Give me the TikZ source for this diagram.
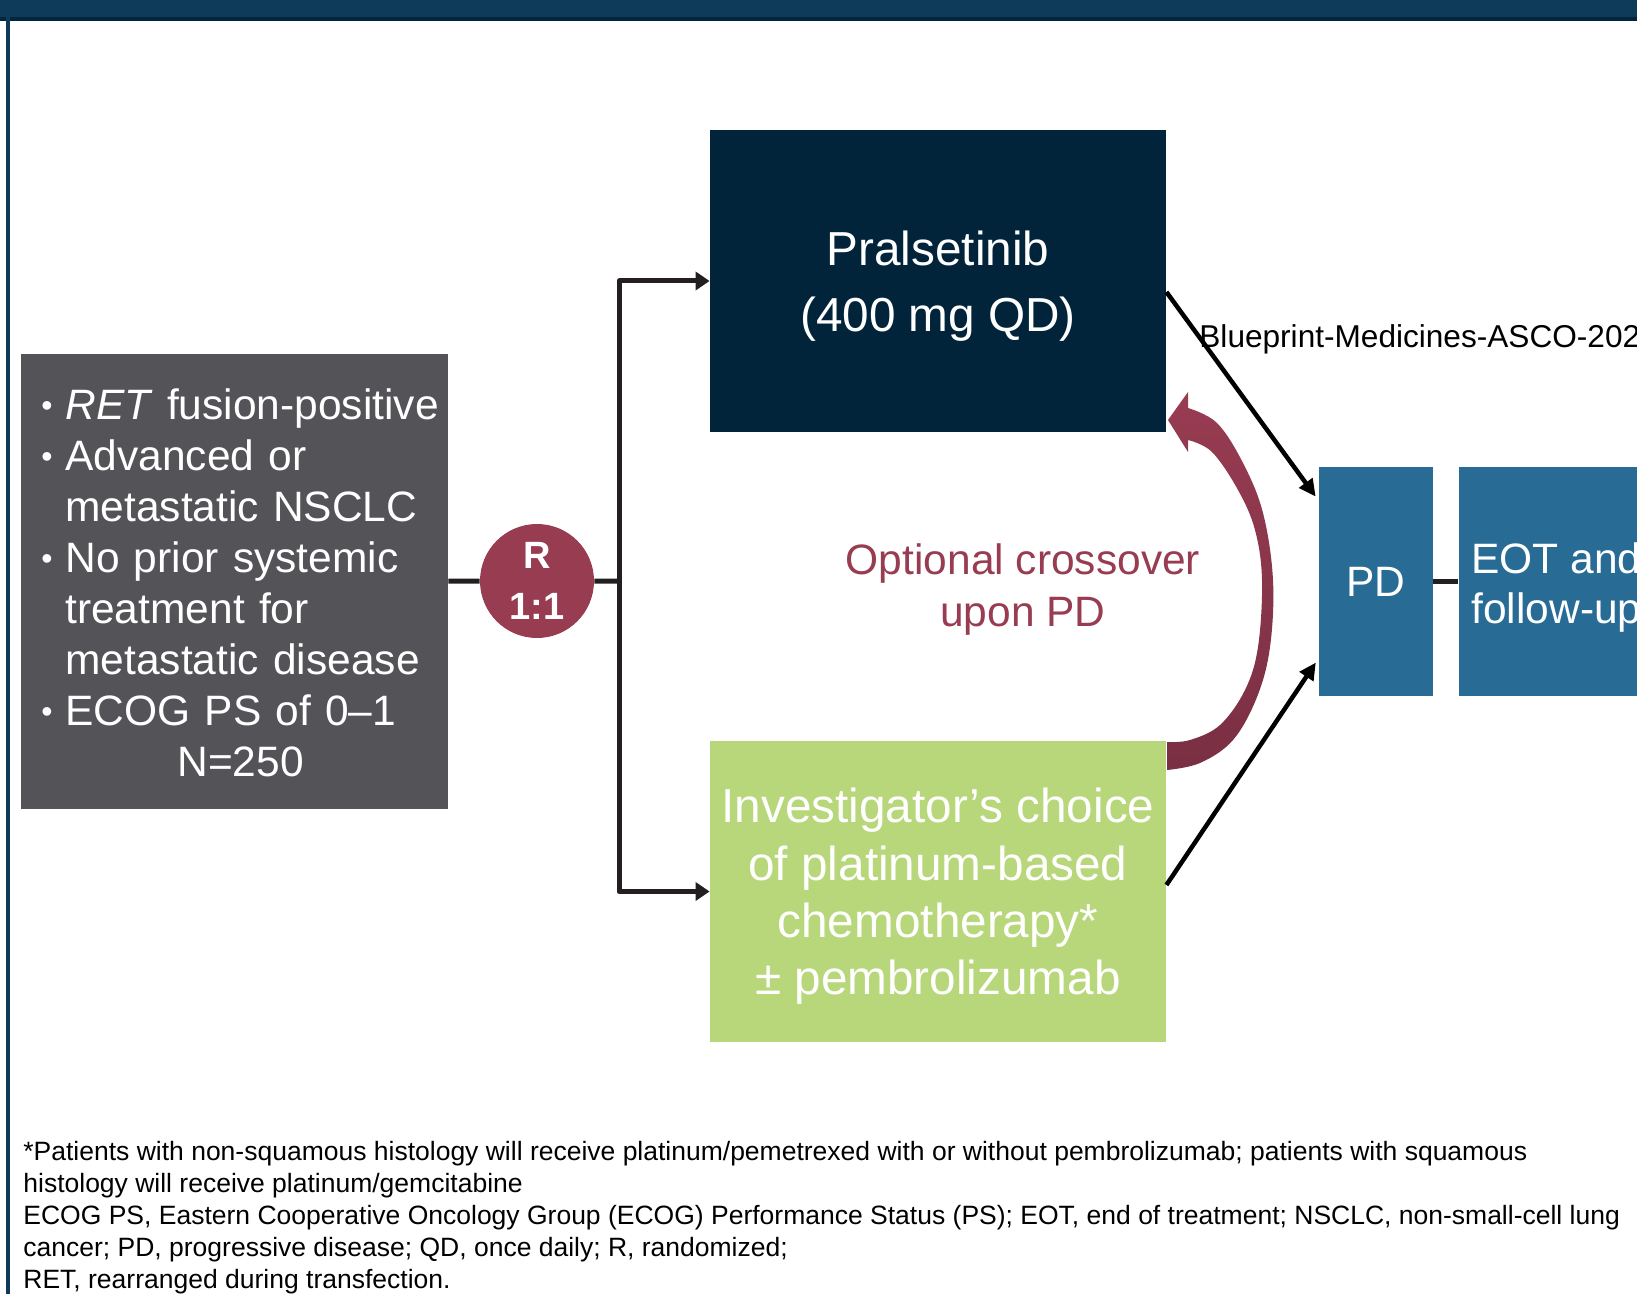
\documentclass[tikz,border=0pt]{standalone}
\usepackage{fontspec}
\setmainfont{Liberation Sans}
\usetikzlibrary{arrows.meta,positioning,calc}
\definecolor{barblue}{HTML}{0F3B5A}
\definecolor{bardark}{HTML}{03253E}
\definecolor{navy}{HTML}{01243B}
\definecolor{slate}{HTML}{545458}
\definecolor{maroon}{HTML}{983C52}
\definecolor{maroondark}{HTML}{7A2F43}
\definecolor{lime}{HTML}{B7D77A}
\definecolor{steel}{HTML}{286C96}
\definecolor{ink}{HTML}{231F20}
\tikzset{
  box/.style={inner sep=0pt, align=center, text=white},
  link/.style={ink, line width=2.5pt},
  branch/.style={link, -{Triangle[length=7pt,width=9pt]}},
  topd/.style={black, line width=2.25pt, -{Triangle[length=8.5pt,width=8pt]}, shorten >=2.5pt},
}
\newcommand{\bul}{\makebox[9pt][l]{\hspace*{-3pt}\raisebox{1.5pt}{\fontsize{16}{16}\selectfont\textbullet}}}
\begin{document}
\begin{tikzpicture}[x=0.5pt, y=-0.5pt, line join=round]
\useasboundingbox (0,0) rectangle (1637,1294);
\clip (0,0) rectangle (1637,1294);
% frame
\fill[barblue] (0,0) rectangle (1637,17);
\fill[bardark] (0,17) rectangle (1637,21);
\fill[barblue] (6,0) rectangle (10,1294);

% boxes
\node[fill=slate, minimum width=213.5pt, minimum height=227.5pt] (elig) at (234.5,581.5) {};
\node[anchor=west, text width=196pt, align=left, inner sep=0pt, text=white,
  font=\fontsize{21.25}{25.5}\selectfont] (eligtext) at (47,583)
  {\bul\textit{RET} fusion-positive\\
   \bul Advanced or\\
   \hspace*{9pt}metastatic NSCLC\\
   \bul No prior systemic\\
   \hspace*{9pt}treatment for\\
   \hspace*{9pt}metastatic disease\\
   \bul ECOG PS of 0–1\\
   \hspace*{65pt}N=250};
\node[box, circle, fill=maroon, minimum size=57pt, text depth=-1.5pt,
  font=\bfseries\fontsize{19}{25.5}\selectfont] (rand) at (537,581) {R\\1:1};
\coordinate (split) at (619,581);
\node[box, fill=navy, minimum width=228pt, minimum height=151pt, text depth=0pt,
  font=\fontsize{23.85}{33}\selectfont] (prals) at (938,281) {Pralsetinib\\(400 mg QD)};
\node[box, fill=lime, minimum width=228pt, minimum height=150.5pt, text depth=0pt,
  font=\fontsize{23.85}{28.7}\selectfont] (chemo) at (938,891.5)
  {Investigator’s choice\\of platinum-based\\chemotherapy*\\± pembrolizumab};
\node[box, fill=steel, minimum width=57pt, minimum height=114.5pt,
  font=\fontsize{21.25}{25.5}\selectfont] (pd) at (1376,581.5) {PD};
\node[fill=steel, minimum width=140pt, minimum height=114.5pt, inner sep=0pt,
  anchor=west, right=12.5pt of pd] (eot) {};
\node[anchor=west, align=left, inner sep=0pt, text=white, text depth=0pt,
  font=\fontsize{21.25}{25}\selectfont] (eottext) at (1471,583.5) {EOT and\\follow-up};

% connectors
\draw[link] (elig) -- (rand) -- (split);
\draw[branch] (split) |- (prals.west);
\draw[branch] (split) |- (chemo.west);
\draw[link] (pd) -- (eot);
\draw[topd] ([yshift=-5.5pt]prals.east) -- ([yshift=-17pt]pd.north west);
\draw[topd] ([yshift=3.25pt]chemo.east) -- ([yshift=19pt]pd.south west);

% crossover
\shade[top color=maroon, middle color=maroon, bottom color=maroondark]
  (1168,420) -- (1188,392) -- (1188,408)
  -- plot[smooth, tension=0.6] coordinates {(1188,408) (1217,423) (1243,463) (1263,513) (1273,580)
     (1270,647) (1257,697) (1233,740) (1200,763) (1167,770)}
  -- (1167,742)
  -- plot[smooth, tension=0.6] coordinates {(1167,742) (1190,740) (1220,725) (1245,690) (1258,647)
     (1262,580) (1255,530) (1238,490) (1212,452) (1188,440)}
  -- (1188,452) -- cycle;
\node[text=maroon, align=center, inner sep=0pt, text depth=0pt, font=\fontsize{21.25}{26}\selectfont] (cross)
  at (1023,585) {Optional crossover\\upon PD};

\node[anchor=base west, inner sep=0pt, font=\fontsize{15.8}{18}\selectfont] (mark)
  at (1199,348) {Blueprint-Medicines-ASCO-202};

% footnote
\node[anchor=north west, align=left, inner sep=0pt, font=\fontsize{13.25}{16}\selectfont] (notes)
  at (23,1141)
  {*Patients with non-squamous histology will receive platinum/pemetrexed with or without pembrolizumab; patients with squamous\\
   histology will receive platinum/gemcitabine\\
   ECOG PS, Eastern Cooperative Oncology Group (ECOG) Performance Status (PS); EOT, end of treatment; NSCLC, non-small-cell lung\\
   cancer; PD, progressive disease; QD, once daily; R, randomized;\\
   RET, rearranged during transfection.};
\end{tikzpicture}
\end{document}
